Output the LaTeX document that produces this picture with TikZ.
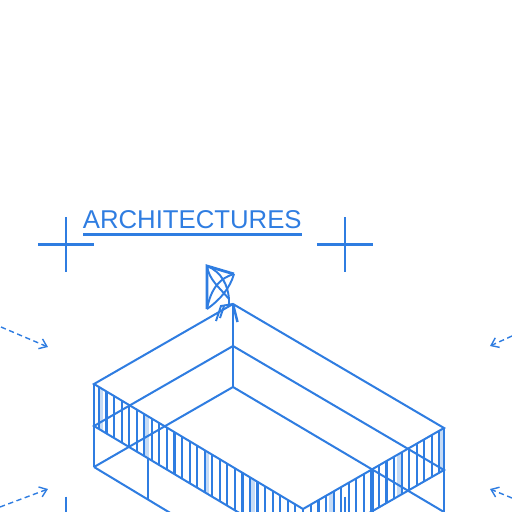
\documentclass[tikz,border=0pt]{standalone}
\usepackage{fontspec}
\setmainfont{Liberation Sans}
\usetikzlibrary{arrows.meta}
\definecolor{archblue}{HTML}{2F7DE1}
\definecolor{archpale}{HTML}{C5DBF6}
\tikzset{
  edge/.style={draw=archblue,line width=1.15pt},
  hatch/.style={draw=archblue,line width=1.2pt},
  palehatch/.style={draw=archpale,line width=2pt},
  crossline/.style={draw=archblue,line width=1.3pt},
  flow/.style={draw=archblue,line width=0.8pt,dash pattern=on 3pt off 2pt,-{Straight Barb[length=4pt,width=6pt]}},
  dish/.style={draw=archblue,line width=1.1pt},
}
\begin{document}
\begin{tikzpicture}[x=0.02cm,y=-0.02cm]
\useasboundingbox (0,0) rectangle (512,512);
\clip (0,0) rectangle (512,512);
% title
\node[anchor=base west,inner sep=0pt,text=archblue,font=\fontsize{14.65pt}{16pt}\selectfont] (title) at (82.5,228.5) {ARCHITECTURES};
\fill[archblue] (83,232.5) rectangle (302,235.5);
% crosses
\foreach \cx/\cy in {66/244.5,345/244.5,66/524,345/524}{
  \draw[crossline] (\cx,\cy-27.5) -- (\cx,\cy+27.5);
  \draw[crossline] (\cx-28,\cy) -- (\cx+28,\cy);
}
% corners of the block
\coordinate (backtop) at (233,304);
\coordinate (backmid) at (233,346);
\coordinate (backlow) at (233,387);
\coordinate (lefttop) at (94,384);
\coordinate (leftmid) at (94,426);
\coordinate (leftlow) at (94,467);
\coordinate (righttop) at (444,428);
\coordinate (rightmid) at (444,470);
\coordinate (rightlow) at (444,512);
\coordinate (fronttop) at (303,509);
\coordinate (frontmid) at (303,551);
\coordinate (frontlow) at (303,593);
% pale stripes
\foreach \x in {101,147,207,253}{
  \pgfmathsetmacro{\ya}{384+(\x-94)*0.598}
  \draw[palehatch] (\x,\ya) -- (\x,\ya+42);
}
\foreach \x in {331,399,441.5}{
  \pgfmathsetmacro{\ya}{428+(444-\x)*0.574}
  \draw[palehatch] (\x,\ya) -- (\x,\ya+42);
}
% hatching
\foreach \k in {0,...,27}{
  \pgfmathsetmacro{\x}{99+7.55*\k}
  \pgfmathsetmacro{\ya}{384+(\x-94)*0.598}
  \draw[hatch] (\x,\ya) -- (\x,\ya+42);
}
\foreach \k in {0,...,17}{
  \pgfmathsetmacro{\x}{311+7.55*\k}
  \pgfmathsetmacro{\ya}{428+(444-\x)*0.574}
  \draw[hatch] (\x,\ya) -- (\x,\ya+42);
}
% edges
\draw[edge] (lefttop) -- (backtop) -- (righttop) -- (fronttop) -- cycle;
\draw[edge] (leftmid) -- (backmid) -- (rightmid) -- (frontmid) -- cycle;
\draw[edge] (leftlow) -- (backlow) -- (rightlow);
\draw[edge] (leftlow) -- (frontlow);
\draw[edge] (rightlow) -- (frontlow);
\draw[edge,line width=1.5pt] (backtop) -- (backmid);
\draw[edge] (backmid) -- (backlow);
\draw[edge,line width=1.4pt] (lefttop) -- (leftlow);
\draw[edge,line width=1.5pt] (righttop) -- (rightmid);
\draw[edge] (rightmid) -- (rightlow);
\draw[edge] (148,458) -- (148,499);
\draw[edge,line width=1.4pt] (373,469) -- (373,512);
% dish
\coordinate (dishnw) at (207,266);
\coordinate (dishne) at (234,274);
\coordinate (dishsw) at (207,309);
\coordinate (dishse) at (229,299);
\draw[dish,line width=1.6pt] (dishsw) -- (dishnw) -- (dishne);
\draw[dish] (dishsw) .. controls (211,288) and (220,278) .. (dishne);
\draw[dish] (dishsw) .. controls (220,300) and (230,288) .. (dishne);
\draw[dish] (dishnw) .. controls (209,280) and (220,288) .. (dishse);
\draw[dish] (dishnw) .. controls (222,272) and (228,286) .. (dishse);
\draw[dish] (dishse) -- (229,306);
\draw[dish] (216,321) -- (221,306) -- (233,304);
\draw[dish] (224,306) -- (220,318);
\draw[dish,line width=1.4pt] (233,304) -- (237.5,322);
% flow arrows
\coordinate (inla) at (1,327);
\coordinate (inlb) at (48,347);
\coordinate (inlc) at (0,507);
\coordinate (inld) at (48,489);
\coordinate (inra) at (512,336);
\coordinate (inrb) at (490,346);
\coordinate (inrc) at (512,498);
\coordinate (inrd) at (490,489);
\draw[flow] (inla) -- (inlb);
\draw[flow] (inlc) -- (inld);
\draw[flow] (inra) -- (inrb);
\draw[flow] (inrc) -- (inrd);
\end{tikzpicture}
\end{document}
